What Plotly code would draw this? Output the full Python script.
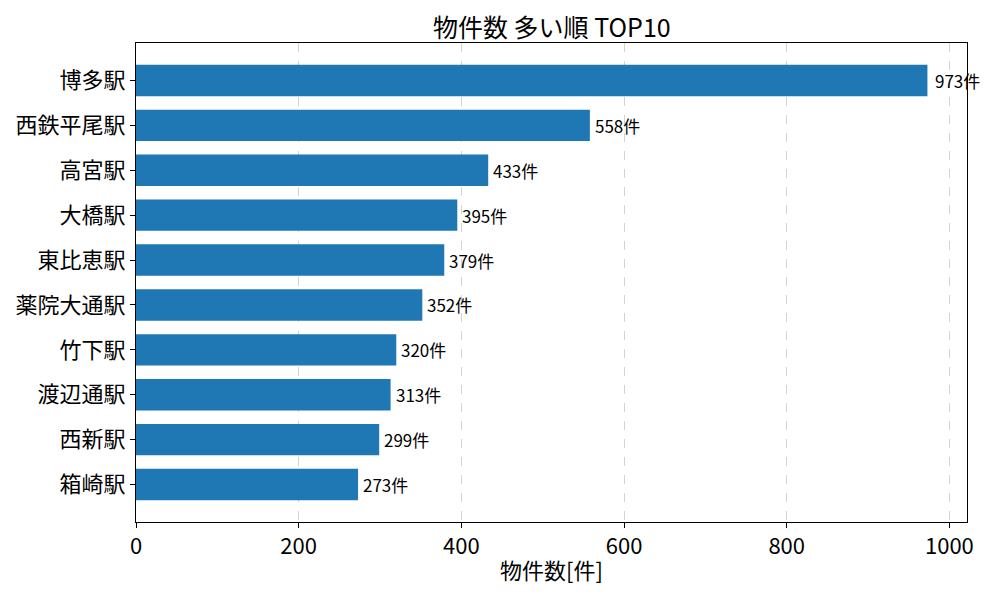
import plotly.graph_objects as go

stations = ["博多駅", "西鉄平尾駅", "高宮駅", "大橋駅", "東比恵駅", "薬院大通駅", "竹下駅", "渡辺通駅", "西新駅", "箱崎駅"]
counts = [973, 558, 433, 395, 379, 352, 320, 313, 299, 273]
x_ticks = [0, 200, 400, 600, 800, 1000]

FONT = "Noto Sans CJK JP"

fig = go.Figure(
    go.Bar(
        x=counts,
        y=list(range(len(stations))),
        orientation="h",
        width=0.7,
        marker=dict(color="#1f77b4", line=dict(width=0)),
        hoverinfo="skip",
    )
)

for i, v in enumerate(counts):
    fig.add_annotation(
        x=v, y=i, text=f"{v}件", showarrow=False,
        xanchor="left", yanchor="middle", xshift=3 if v < 900 else 6,
        font=dict(family=FONT, size=17, color="black"),
    )

# title as a paper annotation just above the plot area
fig.add_annotation(
    x=0.5, y=1, xref="paper", yref="paper", text="物件数 多い順 TOP10",
    showarrow=False, xanchor="center", yanchor="middle", yshift=17,
    font=dict(family=FONT, size=25, color="black"),
)

# page body adds an 8px offset, so margins are trimmed to match
fig.update_layout(
    width=1000, height=600,
    paper_bgcolor="white", plot_bgcolor="white",
    margin=dict(l=128, r=41, t=35, b=86),
    font=dict(family=FONT, color="black"),
    showlegend=False,
)
fig.update_xaxes(
    automargin=False,
    range=[0, 973 * 1.05], tickvals=x_ticks,
    showline=True, linecolor="black", linewidth=1, mirror=True,
    ticks="outside", ticklen=5, tickcolor="black",
    showgrid=True, gridcolor="#d3d3d3", griddash="dash", gridwidth=1,
    zeroline=False,
    tickfont=dict(family=FONT, size=22),
    title=dict(text="物件数[件]", font=dict(family=FONT, size=22), standoff=4),
)
fig.update_yaxes(
    automargin=False,
    range=[9.835, -0.835],
    tickvals=list(range(len(stations))), ticktext=stations,
    showline=True, linecolor="black", linewidth=1, mirror=True,
    ticks="outside", ticklen=5, tickcolor="black",
    showgrid=False, zeroline=False,
    tickfont=dict(family=FONT, size=22),
)

fig.write_html("out.html")
